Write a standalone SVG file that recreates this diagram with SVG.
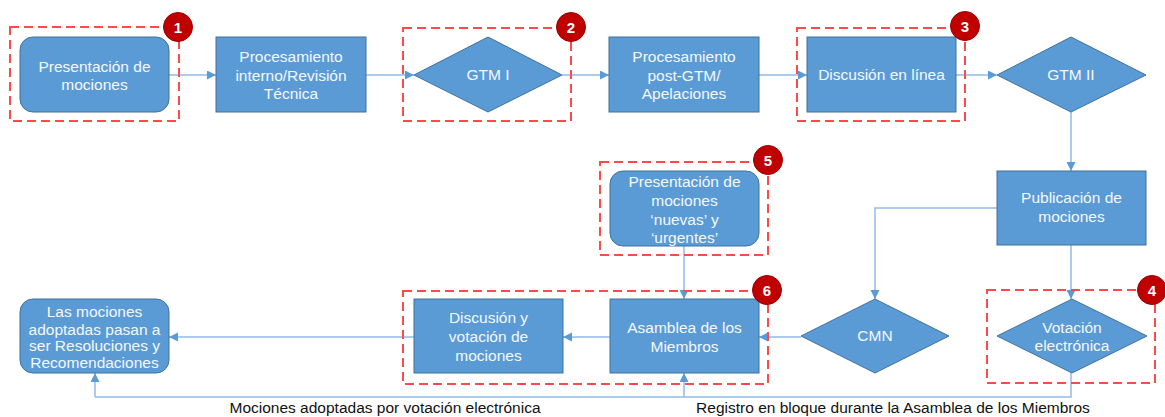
<svg xmlns="http://www.w3.org/2000/svg" width="1165" height="417" viewBox="0 0 1165 417">
<style>
.box{fill:#5b9bd5;stroke:#41719c;stroke-width:1}
.t{font-family:"Liberation Sans",Arial,sans-serif;font-size:15.5px;fill:#f4f8fc;text-anchor:middle}
.lbl{font-family:"Liberation Sans",Arial,sans-serif;font-size:15.5px;fill:#111;text-anchor:middle}
.dash{fill:none;stroke:#ff4a4a;stroke-width:2;stroke-dasharray:9 5}
.badge{fill:#c00000;stroke:#9a0000;stroke-width:1}
.bt{font-family:"Liberation Sans",Arial,sans-serif;font-size:15px;font-weight:bold;fill:#fff;text-anchor:middle}
.c{fill:none;stroke:#92bbe5;stroke-width:1.5}
</style>
<defs>
<marker id="ah" markerUnits="userSpaceOnUse" markerWidth="10" markerHeight="10" refX="9" refY="4.5" orient="auto">
<path d="M0,0 L9,4.5 L0,9 z" fill="#5b9bd5"/>
</marker>
</defs>
<rect width="1165" height="417" fill="#fff"/>
<g id="connectors">
<path class="c" d="M169,75 H216" marker-end="url(#ah)"/>
<path class="c" d="M366,75 H414" marker-end="url(#ah)"/>
<path class="c" d="M562,75 H609" marker-end="url(#ah)"/>
<path class="c" d="M759,75 H807" marker-end="url(#ah)"/>
<path class="c" d="M956,75 H997" marker-end="url(#ah)"/>
<path class="c" d="M1071,112 V171" marker-end="url(#ah)"/>
<path class="c" d="M997,208 H875 V299" marker-end="url(#ah)"/>
<path class="c" d="M1071,245 V299" marker-end="url(#ah)"/>
<path class="c" d="M684,246 V299" marker-end="url(#ah)"/>
<path class="c" d="M801,337 H759" marker-end="url(#ah)"/>
<path class="c" d="M610,337 H563" marker-end="url(#ah)"/>
<path class="c" d="M414,337 H169" marker-end="url(#ah)"/>
<path class="c" d="M1071,373 V397 H95"/>
<path class="c" d="M95,397 V373" marker-end="url(#ah)"/>
<path class="c" d="M684,397 V373" marker-end="url(#ah)"/>
</g>
<g id="groups">
<rect class="dash" x="10" y="27" width="169" height="94"/>
<rect class="dash" x="403" y="28" width="168" height="93"/>
<rect class="dash" x="797" y="28" width="168" height="93"/>
<rect class="dash" x="987" y="290" width="168" height="93"/>
<rect class="dash" x="600" y="162" width="168" height="93"/>
<rect class="dash" x="403" y="291" width="365" height="93"/>
</g>
<g id="n1"><rect class="box" x="20" y="37" width="149" height="75" rx="13"/>
<text class="t" x="94.5" y="72">Presentación de</text><text class="t" x="94.5" y="90">mociones</text></g>
<g id="n2"><rect class="box" x="216" y="37" width="150" height="75"/>
<text class="t" x="291" y="62">Procesamiento</text><text class="t" x="291" y="81">interno/Revisión</text><text class="t" x="291" y="99">Técnica</text></g>
<g id="n3"><polygon class="box" points="414,75 488,37 562,75 488,112"/>
<text class="t" x="488" y="80">GTM I</text></g>
<g id="n4"><rect class="box" x="609" y="37" width="150" height="75"/>
<text class="t" x="684" y="62">Procesamiento</text><text class="t" x="684" y="81">post-GTM/</text><text class="t" x="684" y="99">Apelaciones</text></g>
<g id="n5"><rect class="box" x="807" y="37" width="149" height="75"/>
<text class="t" x="881.5" y="80">Discusión en línea</text></g>
<g id="n6"><polygon class="box" points="997,75 1071,37 1146,75 1071,112"/>
<text class="t" x="1071" y="80">GTM II</text></g>
<g id="n7"><rect class="box" x="997" y="171" width="149" height="74"/>
<text class="t" x="1071.5" y="203">Publicación de</text><text class="t" x="1071.5" y="222">mociones</text></g>
<g id="n8"><rect class="box" x="610" y="171" width="149" height="75" rx="13"/>
<text class="t" x="684.5" y="187">Presentación de</text><text class="t" x="684.5" y="205.5">mociones</text><text class="t" x="684.5" y="224.5">‘nuevas’ y</text><text class="t" x="684.5" y="243">‘urgentes’</text></g>
<g id="n9"><polygon class="box" points="997,336 1072,299 1147,336 1072,373"/>
<text class="t" x="1072" y="333">Votación</text><text class="t" x="1072" y="350.5">electrónica</text></g>
<g id="n10"><polygon class="box" points="801,336 875,299 949,336 875,373"/>
<text class="t" x="875" y="341">CMN</text></g>
<g id="n11"><rect class="box" x="610" y="299" width="149" height="74"/>
<text class="t" x="684.5" y="333">Asamblea de los</text><text class="t" x="684.5" y="352">Miembros</text></g>
<g id="n12"><rect class="box" x="414" y="299" width="149" height="74"/>
<text class="t" x="488.5" y="323">Discusión y</text><text class="t" x="488.5" y="342">votación de</text><text class="t" x="488.5" y="361">mociones</text></g>
<g id="n13"><rect class="box" x="20" y="299" width="149" height="74" rx="13"/>
<text class="t" x="94.5" y="317" font-size="15">Las mociones</text><text class="t" x="94.5" y="334.5" font-size="15">adoptadas pasan a</text><text class="t" x="94.5" y="351" font-size="15">ser Resoluciones y</text><text class="t" x="94.5" y="367.5" font-size="15">Recomendaciones</text></g>
<g id="badges">
<circle class="badge" cx="178" cy="27" r="14.5"/><text class="bt" x="178" y="32.5">1</text>
<circle class="badge" cx="571" cy="27" r="14.5"/><text class="bt" x="571" y="32.5">2</text>
<circle class="badge" cx="965" cy="26" r="14.5"/><text class="bt" x="965" y="31.5">3</text>
<circle class="badge" cx="1152" cy="290" r="14.5"/><text class="bt" x="1152" y="295.5">4</text>
<circle class="badge" cx="768" cy="160" r="14.5"/><text class="bt" x="768" y="165.5">5</text>
<circle class="badge" cx="767" cy="290" r="14.5"/><text class="bt" x="767" y="295.5">6</text>
</g>
<g id="labels">
<text class="lbl" x="385" y="413">Mociones adoptadas por votación electrónica</text>
<text class="lbl" x="893" y="413">Registro en bloque durante la Asamblea de los Miembros</text>
</g>
</svg>
